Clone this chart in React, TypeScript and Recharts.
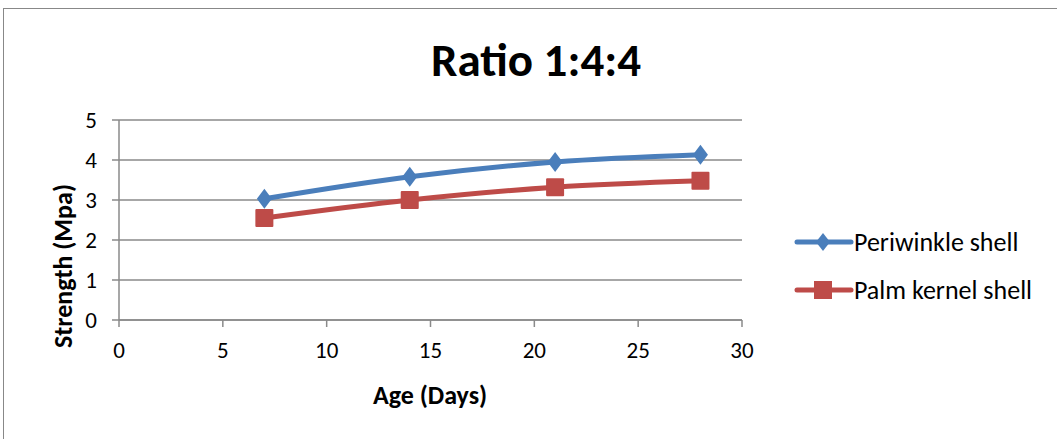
import React from "react"
import {
  LineChart,
  Line,
  XAxis,
  YAxis,
  CartesianGrid,
  Label
} from "recharts"

// age in days
const ages = [7, 14, 21, 28]
// strength (Mpa)
const periwinkle = [3.03, 3.58, 3.95, 4.13]
const palmKernel = [2.55, 3.0, 3.32, 3.48]

const xTicks = [0, 5, 10, 15, 20, 25, 30]
const yTicks = [0, 1, 2, 3, 4, 5]

const BLUE = "#4A7EBB"
const RED = "#BE4B48"
const FONT = "Carlito, Lato, 'Open Sans', sans-serif"

const data = ages.map((age, i) => ({
  age,
  periwinkle: periwinkle[i],
  palmKernel: palmKernel[i]
}))

const Diamond = (props: any) => {
  const { cx, cy } = props
  if (cx == null || cy == null) return null
  const r = 10
  return (
    <path
      d={`M${cx},${cy - r} L${cx + r * 0.75},${cy} L${cx},${cy + r} L${cx - r * 0.75},${cy} Z`}
      fill={BLUE}
    />
  )
}

const Square = (props: any) => {
  const { cx, cy } = props
  if (cx == null || cy == null) return null
  const s = 9
  return <rect x={cx - s} y={cy - s} width={s * 2} height={s * 2} fill={RED} rx={1} />
}

// legend drawn by hand, Recharts' own legend eats plot width
const LegendBox = () => (
  <div style={{ position: "absolute", left: 794, top: 227, fontFamily: FONT, fontSize: 26, color: "#000", whiteSpace: "nowrap" }}>
    <div style={{ display: "flex", alignItems: "center", height: 30, marginBottom: 18 }}>
      <svg width={60} height={24}>
        <line x1={3} y1={12} x2={57} y2={12} stroke={BLUE} strokeWidth={5} strokeLinecap="round" />
        <path d="M29,3 L36,12 L29,21 L22,12 Z" fill={BLUE} />
      </svg>
      <span>Periwinkle shell</span>
    </div>
    <div style={{ display: "flex", alignItems: "center", height: 30 }}>
      <svg width={60} height={24}>
        <line x1={3} y1={12} x2={57} y2={12} stroke={RED} strokeWidth={5} strokeLinecap="round" />
        <rect x={20} y={3} width={18} height={18} fill={RED} />
      </svg>
      <span>Palm kernel shell</span>
    </div>
  </div>
)

export default function App() {
  return (
    <div style={{ position: "absolute", left: 0, top: 0, width: 1057, height: 439, background: "#fff", overflow: "hidden" }}>
      <div
        style={{
          position: "absolute",
          left: 3,
          top: 8,
          width: 1100,
          height: 500,
          borderTop: "1.5px solid #888",
          borderLeft: "1.5px solid #888"
        }}
      />
      <div
        style={{
          position: "absolute",
          left: 0,
          width: 1072,
          top: 30,
          textAlign: "center",
          fontFamily: FONT,
          fontWeight: "bold",
          fontSize: 47,
          lineHeight: "60px",
          color: "#000"
        }}
      >
        Ratio 1:4:4
      </div>
      <div style={{ position: "absolute", left: 0, top: 0 }}>
        <LineChart
          width={1057}
          height={439}
          data={data}
          margin={{ top: 120, right: 315, left: 49, bottom: 79 }}
        >
          <CartesianGrid horizontal vertical={false} stroke="#8a8a8a" strokeWidth={1.5} />
          <XAxis
            dataKey="age"
            type="number"
            domain={[0, 30]}
            ticks={xTicks}
            height={40}
            stroke="#8a8a8a"
            strokeWidth={1.5}
            tickSize={7}
            tickMargin={15}
            tick={{ fill: "#000", fontSize: 23, fontFamily: FONT }}
          >
            <Label
              content={() => (
                <text
                  x={430}
                  y={404}
                  textAnchor="middle"
                  fontFamily={FONT}
                  fontWeight="bold"
                  fontSize={26}
                  fill="#000"
                >
                  Age (Days)
                </text>
              )}
            />
          </XAxis>
          <YAxis
            type="number"
            domain={[0, 5]}
            ticks={yTicks}
            width={70}
            stroke="#8a8a8a"
            strokeWidth={1.5}
            tickSize={7}
            tickMargin={15}
            tick={{ fill: "#000", fontSize: 23, fontFamily: FONT }}
          >
            <Label
              content={() => (
                <text
                  x={72}
                  y={266}
                  transform="rotate(-90 72 266)"
                  textAnchor="middle"
                  fontFamily={FONT}
                  fontWeight="bold"
                  fontSize={26}
                  fill="#000"
                >
                  Strength (Mpa)
                </text>
              )}
            />
          </YAxis>
          <Line
            type="monotone"
            dataKey="periwinkle"
            name="Periwinkle shell"
            stroke={BLUE}
            strokeWidth={5}
            dot={<Diamond />}
            activeDot={false}
            isAnimationActive={false}
          />
          <Line
            type="monotone"
            dataKey="palmKernel"
            name="Palm kernel shell"
            stroke={RED}
            strokeWidth={5}
            dot={<Square />}
            activeDot={false}
            isAnimationActive={false}
          />
        </LineChart>
      </div>
      <LegendBox />
    </div>
  )
}
